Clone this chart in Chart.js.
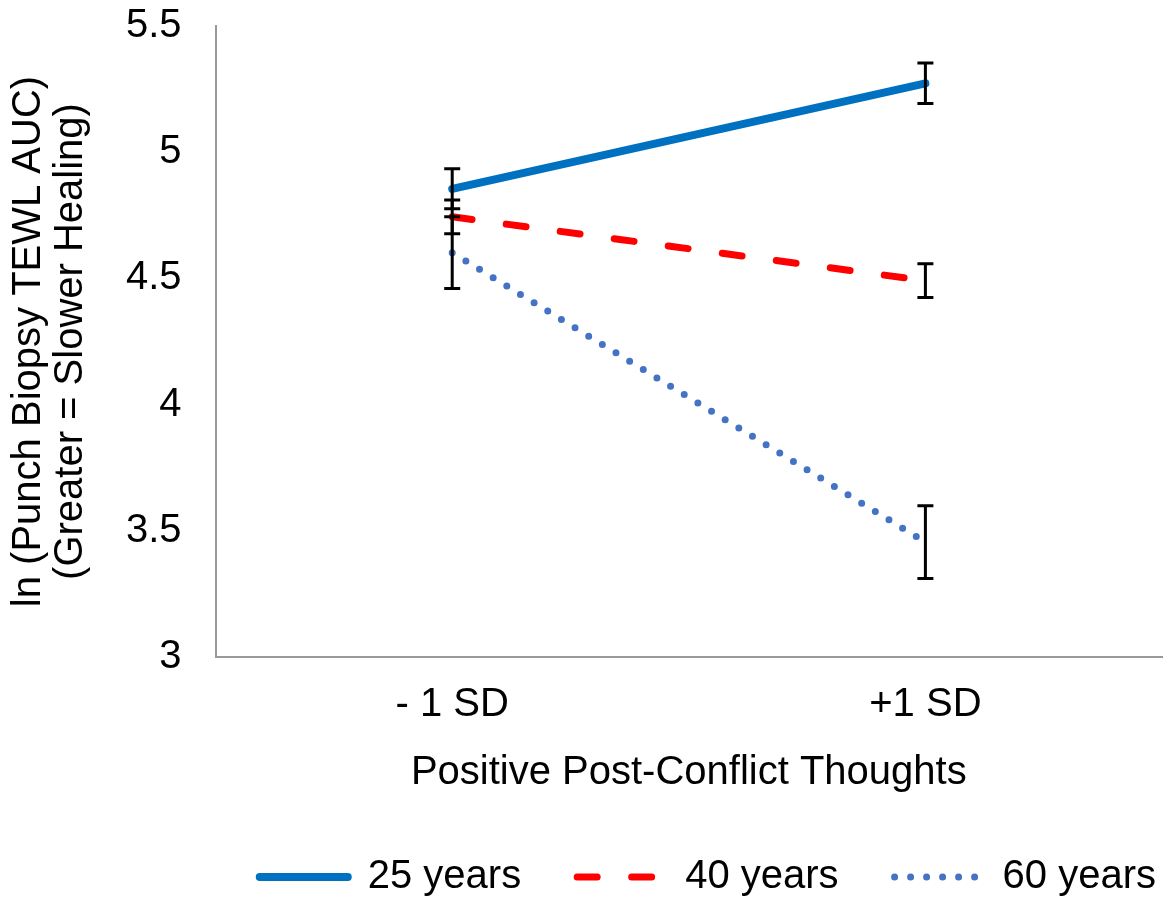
<!DOCTYPE html>
<html>
<head>
<meta charset="utf-8">
<script src="https://cdn.jsdelivr.net/npm/chart.js@4.4.1/dist/chart.umd.min.js"></script>
<style>
  html, body { margin: 0; padding: 0; background: #fff; }
  #wrap { width: 1168px; height: 901px; position: relative; }
</style>
</head>
<body>
<div id="wrap"><canvas id="chart"></canvas></div>
<script>
const labels = ['- 1 SD', '+1 SD']
const seriesNames = ['25 years', '40 years', '60 years']
const age25 = [4.855, 5.273]
const age40 = [4.744, 4.491]
const age60 = [4.602, 3.455]
const err25 = [0.079, 0.080]
const err40 = [0.067, 0.067]
const err60 = [0.142, 0.144]
const yTicks = [3, 3.5, 4, 4.5, 5, 5.5]

const FONT = "'Liberation Sans', Arial, sans-serif"

// vertical error bars with caps, drawn on top of the lines
const errorBars = {
  id: 'errorBars',
  afterDatasetsDraw(chart) {
    const ctx = chart.ctx
    const y = chart.scales.y
    chart.data.datasets.forEach((ds, i) => {
      const meta = chart.getDatasetMeta(i)
      meta.data.forEach((pt, j) => {
        const v = ds.data[j]
        const e = ds.errors[j]
        const top = y.getPixelForValue(v + e)
        const bot = y.getPixelForValue(v - e)
        const x = pt.x
        ctx.save()
        ctx.strokeStyle = '#000'
        ctx.lineWidth = 3
        ctx.setLineDash([])
        ctx.beginPath()
        ctx.moveTo(x, top); ctx.lineTo(x, bot)
        ctx.moveTo(x - 8, top); ctx.lineTo(x + 8, top)
        ctx.moveTo(x - 8, bot); ctx.lineTo(x + 8, bot)
        ctx.stroke()
        ctx.restore()
      })
    })
  }
}

// legend sits right of centre in the original
const legendShift = {
  id: 'legendShift',
  afterLayout(chart) {
    if (chart.legend) {
      chart.legend.left += 50
      chart.legend.right += 50
    }
  }
}

new Chart(document.getElementById('chart'), {
  type: 'line',
  data: {
    labels: labels,
    datasets: [
      {
        label: seriesNames[0],
        data: age25,
        errors: err25,
        borderColor: '#0070C0',
        backgroundColor: '#0070C0',
        borderWidth: 8,
        borderCapStyle: 'round',
        pointRadius: 0
      },
      {
        label: seriesNames[1],
        data: age40,
        errors: err40,
        borderColor: '#FF0000',
        backgroundColor: '#FF0000',
        borderWidth: 7,
        borderDash: [20, 34.5],
        borderCapStyle: 'round',
        pointRadius: 0
      },
      {
        label: seriesNames[2],
        data: age60,
        errors: err60,
        borderColor: '#4472C4',
        backgroundColor: '#4472C4',
        borderWidth: 7,
        borderDash: [0, 16],
        borderCapStyle: 'round',
        pointRadius: 0
      }
    ]
  },
  options: {
    responsive: true,
    maintainAspectRatio: false,
    animation: false,
    layout: { padding: { top: 0, right: 6, left: 0, bottom: -6 } },
    scales: {
      x: {
        offset: true,
        grid: { display: false, drawTicks: true, tickLength: 22 },
        border: { display: true, color: '#999', width: 2 },
        ticks: { color: '#000', font: { family: FONT, size: 40 }, padding: 2 },
        title: {
          display: true,
          text: 'Positive Post-Conflict Thoughts',
          color: '#000',
          font: { family: FONT, size: 40 },
          padding: { top: 18, bottom: 4 }
        }
      },
      y: {
        min: 3,
        max: 5.5,
        afterBuildTicks(scale) {
          scale.ticks = yTicks.map(v => ({ value: v }))
        },
        grid: { display: false, drawTicks: true, tickLength: 32 },
        border: { display: true, color: '#999', width: 2 },
        ticks: {
          color: '#000',
          font: { family: FONT, size: 40 },
          padding: 2,
          callback: v => String(v)
        },
        title: {
          display: true,
          text: ['ln (Punch Biopsy TEWL AUC)', '(Greater = Slower Healing)'],
          color: '#000',
          font: { family: FONT, size: 40, lineHeight: 1.05 },
          padding: { top: 8, bottom: 32 }
        }
      }
    },
    plugins: {
      legend: {
        position: 'bottom',
        align: 'end',
        labels: {
          usePointStyle: true,
          pointStyle: 'line',
          pointStyleWidth: 88,
          padding: 56,
          color: '#000',
          font: { family: FONT, size: 40 },
          generateLabels: chart => chart.data.datasets.map((ds, i) => ({
            text: ds.label,
            datasetIndex: i,
            hidden: false,
            pointStyle: 'line',
            strokeStyle: ds.borderColor,
            fillStyle: ds.borderColor,
            lineWidth: ds.borderWidth,
            lineDash: ds.borderDash || [],
            lineCap: ds.borderCapStyle,
            fontColor: '#000'
          }))
        }
      },
      tooltip: { enabled: false }
    }
  },
  plugins: [errorBars, legendShift]
})
</script>
</body>
</html>
